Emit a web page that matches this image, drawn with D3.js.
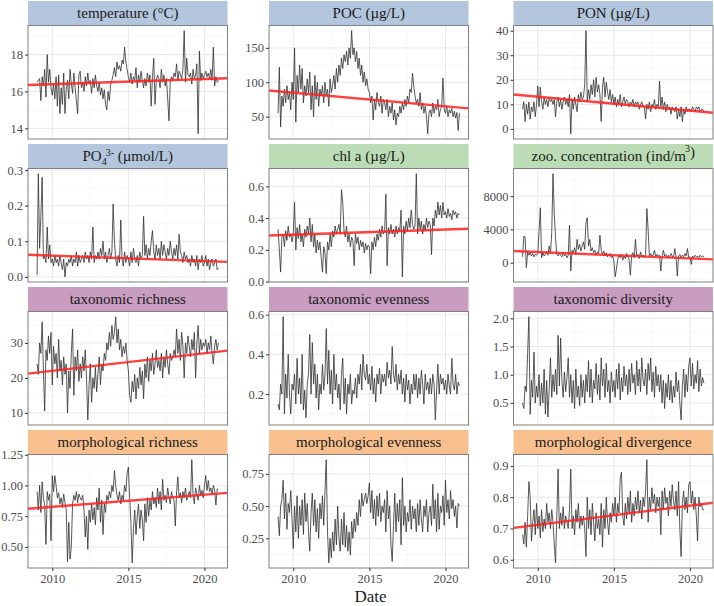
<!DOCTYPE html>
<html>
<head>
<meta charset="utf-8">
<script src="https://cdn.jsdelivr.net/npm/d3@7"></script>
<style>
body { margin: 0; background: #fff; }
text { font-family: "Liberation Serif", serif; }
</style>
</head>
<body>
<svg id="chart" width="714" height="606"></svg>
<script>
// monthly samples, Jan 2009 .. Dec 2020
var startYear = 2009, perYear = 12;

var temperature = [
  16.5,16.6,16.7,15.5,16.8,16.3,17.2,15.7,18.0,16.5,17.2,16.2,
  15.8,16.4,15.6,16.8,15.2,16.9,14.8,16.2,15.3,17.0,14.8,16.1,
  16.6,15.6,17.2,16.4,15.9,17.0,16.2,15.5,14.8,16.9,17.1,16.2,
  16.5,16.0,16.8,16.3,17.0,16.4,16.6,15.9,16.7,16.2,16.9,16.3,
  16.0,16.5,15.8,16.2,15.6,16.1,15.3,15.0,16.0,15.5,16.4,16.6,
  16.9,17.3,16.8,17.6,17.2,17.4,17.1,17.7,17.5,18.4,17.6,17.2,
  16.8,16.5,17.0,16.4,16.8,16.6,17.3,16.2,16.9,16.5,17.1,16.6,
  16.2,16.7,16.3,17.0,16.5,16.9,15.2,16.8,17.8,15.3,16.6,16.9,
  16.7,16.2,17.2,16.5,16.9,16.3,16.7,15.6,14.4,16.5,16.8,16.6,
  17.0,16.8,17.5,16.6,17.1,16.9,16.7,17.2,19.3,16.5,17.8,16.9,
  16.8,17.0,16.4,17.2,16.7,16.9,17.5,13.7,18.2,16.6,17.0,16.7,
  16.9,17.1,16.8,17.0,16.7,17.2,16.6,18.4,16.3,16.8,16.5,16.6
];
var poc = [
  55,122,35,80,65,90,70,95,75,85,60,100,
  75,150,42,110,85,125,90,120,70,95,80,105,
  85,115,60,95,50,110,75,100,65,90,80,95,
  70,100,80,90,65,105,85,95,110,90,120,100,
  125,110,135,120,140,130,145,125,150,135,175,140,
  150,130,145,120,135,110,125,100,115,95,105,90,
  85,70,80,45,75,60,85,70,65,80,55,75,
  70,60,75,50,65,55,70,45,60,38,55,50,
  65,55,70,60,75,65,80,70,90,85,113,95,
  80,70,75,65,85,60,70,55,65,50,25,55,
  60,50,70,55,65,60,75,50,60,65,106,60,
  55,65,50,60,55,62,50,58,48,56,30,55
];
var pon = [
  8,11,3,10,6,11,4,9,7,11,5,10,
  17.5,9,17,11,8,13,10,12,9,13,11,12,
  10,12,5,11,13,9,12,8,11,13,10,12,
  9,14,-2,12,8,13,10,7,14,11,15,12,
  13,18,40,11,16,12,18,14,20,13,21,15,
  18,14,3,17,21,13,19,15,12,16,11,14,
  10,13,9,12,10,14,9,11,13,10,12,11,
  9,11,10,12,9,11,10,11,8,10,11,9,
  9,4,10,8,11,7,10,9,12,8,10,9,
  19.5,9,13,8,11,7,10,8,9,6,9,8,
  7,9,4,8,5,9,3,8,6,9,7,8,
  8,7,9,8,7,9,8,9,7,8,8,7
];
var po4 = [
  0.005,0.29,0.08,0.17,0.28,0.05,0.06,0.04,0.14,0.05,0.09,0.04,
  0.05,0.03,0.06,0.04,0.05,0.03,0.06,0.04,0.02,0.05,0.0,0.04,
  0.03,0.05,0.04,0.06,0.03,0.05,0.04,0.07,0.03,0.06,0.04,0.05,
  0.06,0.04,0.07,0.05,0.06,0.04,0.07,0.05,0.14,0.04,0.06,0.05,
  0.07,0.05,0.08,0.06,0.1,0.05,0.07,0.04,0.06,0.08,0.05,0.07,
  0.205,0.1,0.05,0.03,0.06,0.04,0.16,0.05,0.03,0.07,0.04,0.06,
  0.05,0.03,0.07,0.04,0.08,0.05,0.04,0.06,0.03,0.07,0.05,0.06,
  0.17,0.06,0.09,0.05,0.08,0.06,0.1,0.13,0.07,0.05,0.09,0.06,
  0.08,0.05,0.1,0.06,0.09,0.07,0.05,0.08,0.06,0.1,0.07,0.05,
  0.08,0.06,0.09,0.05,0.12,0.07,0.06,0.04,0.07,0.05,0.06,0.04,
  0.05,0.03,0.06,0.04,0.05,0.03,0.06,0.02,0.05,0.04,0.06,0.03,
  0.04,0.06,0.03,0.05,0.02,0.04,0.05,0.03,0.04,0.05,0.02,0.025
];
var chla = [
  0.33,0.2,0.06,0.28,0.3,0.22,0.32,0.26,0.35,0.28,0.3,0.25,
  0.3,0.5,0.2,0.34,0.27,0.36,0.25,0.3,0.22,0.33,0.28,0.35,
  0.3,0.4,0.25,0.36,0.22,0.3,0.18,0.26,0.2,0.25,0.15,0.06,
  0.22,0.18,0.05,0.25,0.2,0.3,0.22,0.32,0.28,0.35,0.3,0.33,
  0.36,0.3,0.58,0.5,0.32,0.28,0.35,0.25,0.3,0.22,0.28,0.26,
  0.1,0.3,0.24,0.28,0.2,0.26,0.22,0.25,0.18,0.24,0.2,0.23,
  0.22,0.05,0.25,0.2,0.28,0.22,0.3,0.26,0.33,0.28,0.35,0.3,
  0.32,0.55,0.1,0.34,0.3,0.36,0.3,0.33,0.28,0.35,0.3,0.34,
  0.32,0.45,0.03,0.35,0.3,0.38,0.32,0.4,0.34,0.45,0.36,0.33,
  0.35,0.68,0.3,0.4,0.33,0.38,0.3,0.36,0.32,0.4,0.34,0.38,
  0.36,0.17,0.4,0.35,0.45,0.4,0.5,0.42,0.48,0.4,0.5,0.42,
  0.44,0.4,0.46,0.41,0.43,0.39,0.45,0.42,0.44,0.4,0.43,0.42
];
var zoo = [
  700,3200,3100,-600,1300,900,1200,800,1100,700,1000,900,
  1100,3800,6600,600,1200,800,1000,1300,900,2000,1100,3600,
  10700,5800,3000,1000,800,1100,900,700,1200,800,1000,600,
  900,4500,-1000,1500,1200,1800,1000,2800,1600,2200,1400,2000,
  2500,1600,4800,5400,2000,2800,1400,1800,1200,1500,900,1300,
  1100,3300,1500,1000,1400,800,1200,700,900,1100,600,800,
  200,-1700,-800,400,900,600,1000,300,800,500,1100,700,
  400,-1500,900,1200,600,2800,800,1000,500,1300,700,900,
  600,1000,6500,4000,700,1100,800,900,1500,700,1000,800,
  900,-1000,700,1500,800,1000,600,900,700,1100,800,600,
  1700,700,-1600,800,1000,600,900,700,1100,800,1700,600,
  700,-200,800,600,900,700,800,600,900,700,800,750
];
var taxRichness = [
  24,21,30,27,36,22,10.5,28,25,32,27,33,
  18,29,24,27,20,31,22,25,18,26,21,24,
  10,22,17,27,34,15,26,22,28,19,24,20,
  26,22,28,20,8,18,24,13,20,17,23,16,
  21,26,18,24,22,27,25,30,28,33,29,35,
  31,33,37.5,30,34,28,31,26,29,27,30,25,
  22,15,13,19,16,21,14,20,17,23,18,22,
  14,24,20,26,19,25,22,27,21,24,28,23,
  25,22,27,20,26,23,28,24,21,27,25,26,
  28,26,34,27,31,25,33,29,20,30,27,32,
  29,26,31,28,33,20,30,35,27,31,28,30,
  29,31,27,30,28,32,27,24,29,31,28,30
];
var taxEvenness = [
  0.15,0.12,0.25,0.2,0.59,0.1,0.3,0.18,0.4,0.2,0.1,0.25,
  0.22,0.3,0.15,0.38,0.2,0.28,0.15,0.4,0.12,0.22,0.08,0.25,
  0.3,0.5,0.2,0.46,0.25,0.35,0.18,0.3,0.12,0.25,0.2,0.35,
  0.22,0.3,0.53,0.25,0.42,0.2,0.32,0.15,0.4,0.22,0.3,0.18,
  0.25,0.12,0.3,0.38,0.15,0.28,0.1,0.25,0.2,0.3,0.15,0.22,
  0.2,0.28,0.18,0.3,0.25,0.35,0.22,0.4,0.3,0.27,0.35,0.25,
  0.3,0.22,0.34,0.2,0.28,0.16,0.3,0.25,0.33,0.2,0.3,0.26,
  0.3,0.24,0.36,0.28,0.32,0.25,0.44,0.3,0.26,0.35,0.22,0.3,
  0.25,0.32,0.2,0.28,0.16,0.3,0.22,0.27,0.15,0.25,0.2,0.3,
  0.22,0.3,0.18,0.28,0.2,0.32,0.25,0.15,0.3,0.22,0.26,0.2,
  0.28,0.2,0.3,0.25,0.07,0.22,0.35,0.2,0.3,0.25,0.28,0.22,
  0.27,0.2,0.3,0.24,0.2,0.38,0.25,0.22,0.3,0.2,0.26,0.24
];
var taxDiversity = [
  0.5,0.4,0.8,0.7,1.4,2.03,0.3,0.9,0.6,1.4,0.5,0.8,
  0.6,1.0,0.45,0.85,0.5,1.1,0.3,0.9,0.25,0.75,1.3,0.6,
  1.0,0.7,1.1,0.65,1.7,0.8,1.65,0.9,0.6,1.05,0.7,0.95,
  1.3,0.6,1.0,0.5,0.9,0.4,1.1,0.6,0.8,0.45,1.0,0.6,
  0.9,0.5,1.0,0.7,1.25,0.6,1.1,0.5,0.9,0.75,1.2,0.65,
  1.0,0.55,1.3,0.8,1.1,0.6,1.2,0.7,0.9,0.5,1.05,0.7,
  0.9,0.6,1.1,0.75,1.2,0.55,0.95,0.7,1.15,0.8,1.0,0.65,
  1.1,0.7,1.2,0.85,1.0,0.65,1.25,0.8,1.1,0.7,1.3,0.9,
  0.8,1.1,0.65,1.2,0.9,1.3,0.7,1.05,0.6,1.15,0.8,1.0,
  0.7,1.0,0.5,0.9,0.4,0.85,0.6,1.0,0.55,0.9,0.5,0.8,
  0.6,1.05,0.7,0.9,0.5,0.2,0.8,1.1,0.6,1.0,0.7,1.15,
  1.3,0.8,1.2,0.75,1.0,0.85,1.25,0.7,1.1,0.8,0.95,0.85
];
var morphRichness = [
  0.95,0.8,1.0,0.78,1.03,0.9,0.84,0.52,0.95,0.88,0.93,0.55,
  1.08,0.95,1.08,1.0,0.9,0.94,0.85,0.9,0.82,0.93,0.86,0.8,
  0.38,0.7,0.4,0.5,0.85,0.92,0.88,0.95,0.86,0.93,0.9,0.88,
  0.92,0.8,0.58,0.75,0.48,0.8,0.7,0.85,0.72,0.82,0.68,0.9,
  0.8,0.98,0.7,0.88,0.6,0.85,0.78,0.92,0.88,0.95,0.9,1.0,
  0.95,1.12,1.0,0.92,0.88,0.95,0.85,0.92,0.88,1.0,0.95,1.1,
  1.15,0.9,0.7,0.37,0.65,0.8,0.6,0.75,0.85,0.65,0.8,0.72,
  0.55,0.85,0.7,0.9,0.75,0.88,0.8,0.95,0.85,0.9,0.82,0.98,
  0.85,0.95,0.8,1.05,0.88,0.92,0.86,0.98,0.9,0.85,0.95,0.9,
  0.88,0.67,0.95,1.07,0.9,0.94,0.86,0.95,0.9,0.98,0.88,0.92,
  0.95,0.9,1.21,0.92,0.85,0.98,0.93,0.88,1.0,0.92,0.96,0.9,
  1.0,1.08,0.96,1.04,0.95,0.98,0.93,1.0,0.96,0.84,0.97,0.97
];
var morphEvenness = [
  0.42,0.27,0.5,0.55,0.7,0.4,0.6,0.32,0.52,0.45,0.62,0.4,
  0.17,0.5,0.3,0.58,0.25,0.5,0.35,0.55,0.28,0.6,0.38,0.52,
  0.3,0.15,0.45,0.6,0.35,0.55,0.3,0.48,0.25,0.52,0.4,0.58,
  0.35,0.62,0.86,0.3,0.06,0.25,0.1,0.3,0.15,0.4,0.2,0.5,
  0.25,0.15,0.4,0.2,0.45,0.18,0.35,0.15,0.3,0.12,0.38,0.25,
  0.4,0.3,0.45,0.35,0.55,0.42,0.6,0.5,0.55,0.6,0.52,0.58,
  0.68,0.45,0.62,0.4,0.55,0.35,0.58,0.42,0.6,0.38,0.5,0.45,
  0.55,0.3,0.62,0.4,0.5,0.2,0.07,0.35,0.6,0.3,0.52,0.38,
  0.55,0.2,0.72,0.35,0.5,0.3,0.45,0.38,0.55,0.32,0.5,0.4,
  0.48,0.3,0.52,0.35,0.55,0.4,0.3,0.5,0.42,0.55,0.3,0.45,
  0.5,0.35,0.67,0.4,0.55,0.3,0.6,0.32,0.5,0.45,0.58,0.35,
  0.7,0.45,0.55,0.4,0.62,0.48,0.55,0.42,0.5,0.33,0.52,0.5
];
var morphDivergence = [
  0.68,0.65,0.72,0.64,0.74,0.85,0.8,0.66,0.72,0.76,0.68,0.78,
  0.7,0.74,0.67,0.76,0.69,0.73,0.7,0.78,0.72,0.75,0.7,0.76,
  0.72,0.65,0.59,0.74,0.89,0.7,0.75,0.71,0.77,0.7,0.74,0.72,
  0.7,0.76,0.89,0.7,0.74,0.68,0.76,0.72,0.78,0.7,0.74,0.71,
  0.74,0.7,0.61,0.8,0.7,0.76,0.68,0.78,0.72,0.66,0.75,0.7,
  0.73,0.68,0.78,0.64,0.76,0.7,0.8,0.72,0.68,0.75,0.72,0.78,
  0.74,0.8,0.72,0.78,0.75,0.86,0.88,0.74,0.71,0.78,0.73,0.8,
  0.75,0.82,0.72,0.78,0.74,0.8,0.76,0.82,0.75,0.79,0.73,0.8,
  0.77,0.82,0.92,0.72,0.8,0.76,0.83,0.78,0.81,0.75,0.8,0.77,
  0.8,0.68,0.82,0.76,0.83,0.78,0.8,0.74,0.82,0.77,0.84,0.79,
  0.76,0.82,0.74,0.85,0.7,0.61,0.78,0.82,0.76,0.8,0.75,0.84,
  0.85,0.78,0.82,0.76,0.8,0.74,0.66,0.8,0.77,0.78,0.76,0.76
];

// title pieces: [text, "sub"|"sup"|""]
var titles = [
  [["temperature (°C)"]],
  [["POC (µg/L)"]],
  [["PON (µg/L)"]],
  [["PO"],["4","sub"],["3-","sup"],[" (µmol/L)"]],
  [["chl a (µg/L)"]],
  [["zoo. concentration (ind/m"],["3","sup"],[")"]],
  [["taxonomic richness"]],
  [["taxonomic evenness"]],
  [["taxonomic diversity"]],
  [["morphological richness"]],
  [["morphological evenness"]],
  [["morphological divergence"]]
];
var series = [temperature, poc, pon, po4, chla, zoo,
  taxRichness, taxEvenness, taxDiversity, morphRichness, morphEvenness, morphDivergence];
var groups = [0,0,0,0,1,1,2,2,2,3,3,3];
var groupColors = ["#b3c6dd", "#bcdcb5", "#c89dbf", "#f8c08e"];
var yTicks = [
  [14,16,18], [50,100,150], [0,10,20,30,40],
  [0,0.1,0.2,0.3], [0,0.2,0.4,0.6], [0,4000,8000],
  [10,20,30], [0.2,0.4,0.6], [0.5,1,1.5,2],
  [0.5,0.75,1,1.25], [0.25,0.5,0.75], [0.6,0.7,0.8,0.9]
];
var tickFormats = ["d","d","d",".1f",".1f","d","d",".1f",".1f",".2f",".2f",".1f"];
var xTicks = [2010, 2015, 2020];
// linear trend, value at left and right edge of panel (null = none)
var trendEnds = [
  [16.35,16.72], [88,62], [14,6.6],
  [0.062,0.042], [0.29,0.333], [1400,400],
  [21.2,27.8], null, null,
  [0.81,0.94], null, [0.702,0.782]
];

var colLeft = [28, 269, 513.5], rowTop = [1, 144, 287, 430];
var panelW = 199.5, stripH = 24.5, panelH = 113.5;

var svg = d3.select("#chart");
var dates = temperature.map(function(d, i){ return startYear + i / perYear; });

var xr = d3.extent(dates), xpad = (xr[1] - xr[0]) * 0.05;
var x = d3.scaleLinear().domain([xr[0] - xpad, xr[1] + xpad]).range([0, panelW]);

function minors(ticks, dom){
  var step = ticks[1] - ticks[0], out = [];
  for (var v = ticks[0] - step / 2; v <= ticks[ticks.length - 1] + step; v += step)
    if (v >= dom[0] && v <= dom[1]) out.push(v);
  return out;
}

series.forEach(function(vals, i){
  var row = Math.floor(i / 3), col = i % 3;
  var g = svg.append("g").attr("transform", "translate(" + colLeft[col] + "," + rowTop[row] + ")");

  g.append("rect").attr("width", panelW).attr("height", stripH).attr("fill", groupColors[groups[i]]);
  var t = g.append("text").attr("x", panelW / 2).attr("y", stripH / 2 + 5)
    .attr("text-anchor", "middle").attr("font-size", 15).attr("fill", "#1a1a1a");
  titles[i].forEach(function(p){
    var s = t.append("tspan").text(p[0]);
    if (p[1] == "sub") s.attr("font-size", 10).attr("dy", 4);
    else if (p[1] == "sup") s.attr("font-size", 10).attr("dy", -9).attr("dx", -1);
    else if (t.selectAll("tspan").size() > 1) s.attr("dy", 5);
  });

  var pg = g.append("g").attr("transform", "translate(0," + stripH + ")");
  var e = d3.extent(vals), pad = (e[1] - e[0]) * 0.05;
  var y = d3.scaleLinear().domain([e[0] - pad, e[1] + pad]).range([panelH, 0]);

  pg.append("rect").attr("width", panelW).attr("height", panelH).attr("fill", "#fff");
  pg.selectAll(".ymin").data(minors(yTicks[i], y.domain())).enter().append("line")
    .attr("x1", 0).attr("x2", panelW).attr("y1", y).attr("y2", y)
    .attr("stroke", "#f3f3f3").attr("stroke-width", 0.6);
  pg.selectAll(".xmin").data(minors(xTicks, x.domain())).enter().append("line")
    .attr("y1", 0).attr("y2", panelH).attr("x1", x).attr("x2", x)
    .attr("stroke", "#f3f3f3").attr("stroke-width", 0.6);
  pg.selectAll(".ymaj").data(yTicks[i]).enter().append("line")
    .attr("x1", 0).attr("x2", panelW).attr("y1", y).attr("y2", y)
    .attr("stroke", "#e8e8e8").attr("stroke-width", 1);
  pg.selectAll(".xmaj").data(xTicks).enter().append("line")
    .attr("y1", 0).attr("y2", panelH).attr("x1", x).attr("x2", x)
    .attr("stroke", "#e8e8e8").attr("stroke-width", 1);

  var line = d3.line().x(function(d, j){ return x(dates[j]); }).y(function(d){ return y(d); });
  pg.append("path").datum(vals).attr("d", line)
    .attr("fill", "none").attr("stroke", "#2e2e2e").attr("stroke-width", 0.8)
    .attr("stroke-linejoin", "round");

  if (trendEnds[i]) {
    pg.append("line")
      .attr("x1", x(x.domain()[0])).attr("x2", x(x.domain()[1]))
      .attr("y1", y(trendEnds[i][0])).attr("y2", y(trendEnds[i][1]))
      .attr("stroke", "#ff2020").attr("stroke-opacity", 0.85).attr("stroke-width", 2.4);
  }

  pg.append("rect").attr("width", panelW).attr("height", panelH)
    .attr("fill", "none").attr("stroke", "#7f7f7f").attr("stroke-width", 1);

  var ya = pg.append("g").call(d3.axisLeft(y).tickValues(yTicks[i]).tickSize(3).tickPadding(2)
    .tickFormat(d3.format(tickFormats[i])));
  ya.select(".domain").remove();
  ya.selectAll("line").attr("stroke", "#333");
  ya.selectAll("text").attr("font-family", "Liberation Serif").attr("font-size", 12.5).attr("fill", "#4d4d4d");

  if (row == 3) {
    var xa = pg.append("g").attr("transform", "translate(0," + panelH + ")")
      .call(d3.axisBottom(x).tickValues(xTicks).tickSize(3).tickPadding(3).tickFormat(d3.format("d")));
    xa.select(".domain").remove();
    xa.selectAll("line").attr("stroke", "#333");
    xa.selectAll("text").attr("font-family", "Liberation Serif").attr("font-size", 12.5).attr("fill", "#4d4d4d");
  }
});

svg.append("text").attr("x", (colLeft[0] + colLeft[2] + panelW) / 2).attr("y", 602)
  .attr("text-anchor", "middle").attr("font-size", 17).attr("fill", "#1a1a1a").text("Date");
</script>
</body>
</html>
